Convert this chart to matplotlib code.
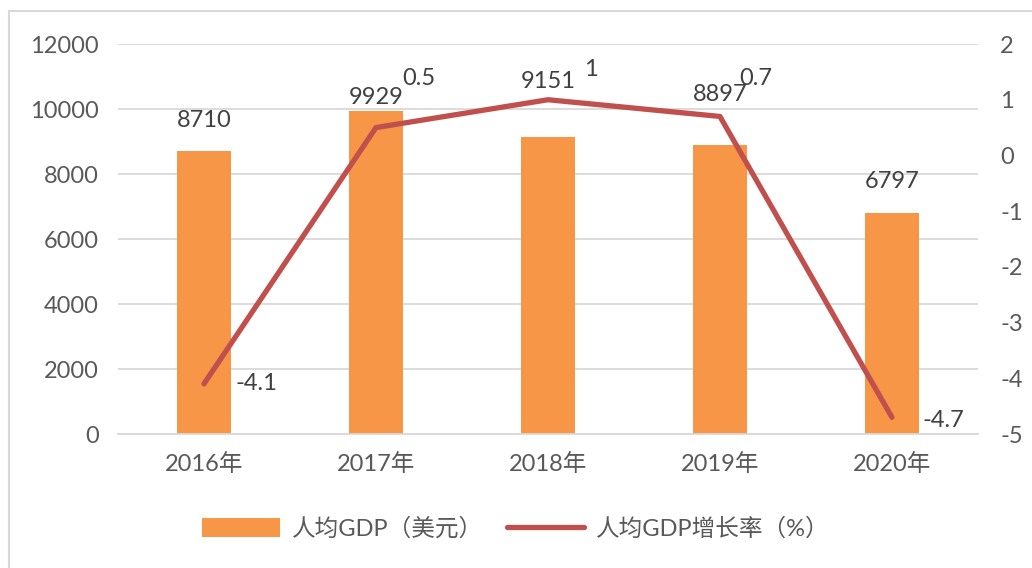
import matplotlib.pyplot as plt
from matplotlib.patches import Rectangle

plt.rcParams['font.family'] = ['Lato', 'Noto Sans CJK SC', 'DejaVu Sans']
plt.rcParams['axes.unicode_minus'] = False

# data
years = ['2016年', '2017年', '2018年', '2019年', '2020年']
gdp = [8710, 9929, 9151, 8897, 6797]
growth = [-4.1, 0.5, 1, 0.7, -4.7]

bar_color = '#F79646'
line_color = '#C0504D'
text_color = '#595959'
grid_color = '#D9D9D9'

fig = plt.figure(figsize=(10.32, 5.68), dpi=100)
ax = fig.add_axes([0.1143, 0.2359, 0.8333, 0.6866])
ax2 = ax.twinx()

x = list(range(len(years)))
ax.bar(x, gdp, width=0.31, color=bar_color, zorder=2, label='人均GDP（美元）')
ax.set_xlim(-0.5, len(years) - 0.5)
ax.set_ylim(0, 12000)
ax.set_yticks(range(0, 12001, 2000))
ax.set_xticks(x)
ax.set_xticklabels(years)
ax.grid(axis='y', color=grid_color, linewidth=1.3, zorder=0)
ax.set_axisbelow(True)

# bar label offsets (points above bar top), placed to stay clear of the line
bar_off = [22, 10, 40, 36, 23]
for xi, v, off in zip(x, gdp, bar_off):
    ax.annotate(str(v), (xi, v), xytext=(0, off), textcoords='offset points',
                ha='center', va='center', fontsize=17, color='#404040')

ax2.plot(x, growth, color=line_color, linewidth=3.8, solid_capstyle='round',
         zorder=3, label='人均GDP增长率（%）')
ax2.set_ylim(-5, 2)
ax2.set_yticks(range(-5, 3))

# line label offsets (points)
offsets = [(23, 0), (19, 35), (26, 22), (14, 27), (22, -2)]
for xi, v, off in zip(x, growth, offsets):
    ax2.annotate('%g' % v, (xi, v), xytext=off, textcoords='offset points',
                 ha='left', va='center', fontsize=17, color='#404040')

for a in (ax, ax2):
    for s in a.spines.values():
        s.set_visible(False)
    a.tick_params(length=0, labelsize=17, colors=text_color)
ax.spines['bottom'].set_visible(True)
ax.spines['bottom'].set_color(grid_color)
ax.spines['bottom'].set_linewidth(1.3)
ax.tick_params(axis='y', pad=14)
ax.tick_params(axis='x', pad=14)
ax2.tick_params(axis='y', pad=16)

# legend
h1, l1 = ax.get_legend_handles_labels()
h2, l2 = ax2.get_legend_handles_labels()
leg = fig.legend(h1 + h2, l1 + l2, loc='center', bbox_to_anchor=(0.5, 0.07),
                 ncol=2, frameon=False, fontsize=17, handlelength=3.3,
                 handleheight=0.9, columnspacing=1.0, handletextpad=0.5)
for t in leg.get_texts():
    t.set_color(text_color)

# chart border
fig.patches.append(Rectangle((0.009, -0.02), 1.2, 1.0, transform=fig.transFigure,
                             fill=False, edgecolor='#D9D9D9', linewidth=1.5))

fig.savefig('out.png', dpi=100)
